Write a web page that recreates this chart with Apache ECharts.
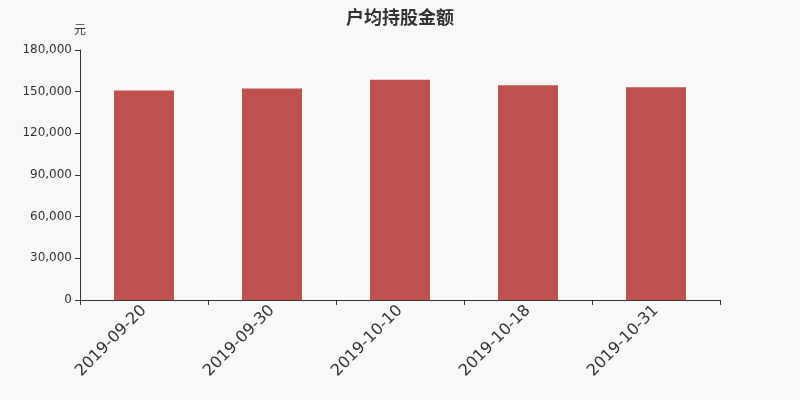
<!DOCTYPE html>
<html><head><meta charset="utf-8">
<script src="https://cdn.jsdelivr.net/npm/echarts@6/dist/echarts.min.js"></script>
<style>html,body{margin:0;padding:0;background:#f8f8f8;}#c{width:800px;height:400px;}</style>
</head><body><div id="c"></div>
<script>
var categories = ['2019-09-20','2019-09-30','2019-10-10','2019-10-18','2019-10-31'];
var values = [150900, 152200, 158500, 154600, 153200];
var yTicks = [0, 30000, 60000, 90000, 120000, 150000, 180000];
var chart = echarts.init(document.getElementById('c'));
chart.setOption({
  backgroundColor: '#f8f8f8',
  title: {text: '户均持股金额', left: 'center', top: 3,
    textStyle: {fontSize: 18, fontWeight: 'bold', color: '#333', fontFamily: 'Noto Sans CJK SC'}},
  grid: {left: 80, right: 80, top: 50, bottom: 100},
  xAxis: {type: 'category', data: categories,
    axisLine: {lineStyle: {color: '#333'}},
    axisTick: {show: true, alignWithLabel: false, length: 5, lineStyle: {color: '#333'}},
    axisLabel: {rotate: 45, fontSize: 16, color: '#333', margin: 8, fontFamily: 'DejaVu Sans'}},
  yAxis: {type: 'value', min: yTicks[0], max: yTicks[yTicks.length-1], interval: 30000,
    name: '元', nameTextStyle: {color: '#333', fontSize: 12, fontFamily: 'Noto Sans CJK SC'},
    axisLine: {show: true, lineStyle: {color: '#333'}},
    axisTick: {show: true, lineStyle: {color: '#333'}},
    splitLine: {show: false},
    axisLabel: {color: '#333', fontSize: 12, fontFamily: 'DejaVu Sans',
      formatter: function(v){ return v.toLocaleString('en-US'); }}},
  series: [{type: 'bar', data: values, barWidth: 60, itemStyle: {color: '#c0504d'}}]
});
</script></body></html>
